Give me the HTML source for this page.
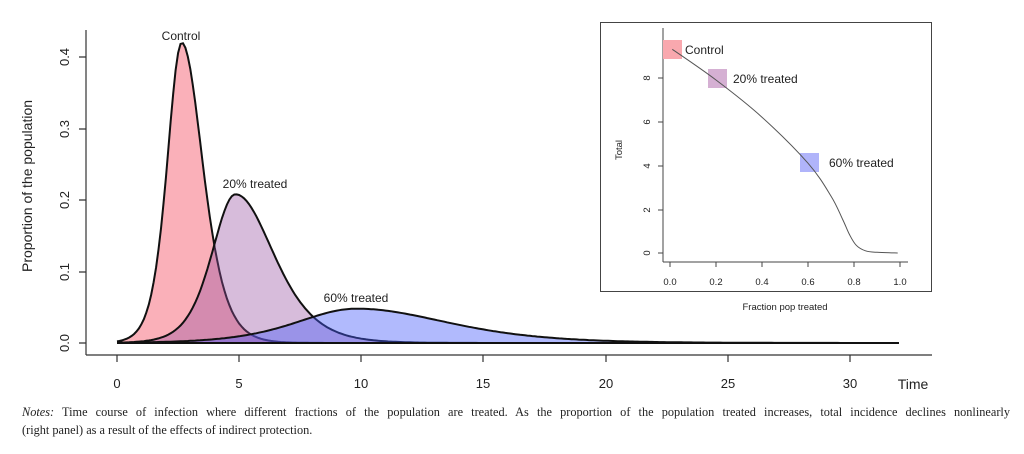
<!DOCTYPE html>
<html><head><meta charset="utf-8"><style>
body{margin:0;background:#fff;width:1024px;height:454px;overflow:hidden;font-family:"Liberation Sans",sans-serif}
.notes{position:absolute;left:22px;width:988px;font-family:"Liberation Serif",serif;font-size:12.3px;line-height:16px;color:#222;white-space:nowrap}
</style></head><body>
<svg id="s" width="1024" height="400" style="position:absolute;left:0;top:0" font-family="Liberation Sans, sans-serif">
<g stroke="#333" stroke-width="1.2" fill="none">
<path d="M86 30V355M86 355H932"/>
<path d="M117 355v7M239 355v7M361 355v7M483 355v7M606 355v7M728 355v7M850 355v7"/>
<path d="M86 343h-7M86 272h-7M86 200h-7M86 129h-7M86 57h-7"/>
</g>
<g id="main"></g>
<g fill="#222" font-size="13" text-anchor="middle">
<text x="117" y="388">0</text><text x="239" y="388">5</text><text x="361" y="388">10</text><text x="483" y="388">15</text><text x="606" y="388">20</text><text x="728" y="388">25</text><text x="850" y="388">30</text>
<text x="913" y="389" font-size="14">Time</text>
</g>
<g fill="#222" font-size="13" text-anchor="middle">
<text transform="translate(65,343) rotate(-90)" dy="4">0.0</text>
<text transform="translate(65,272) rotate(-90)" dy="4">0.1</text>
<text transform="translate(65,200) rotate(-90)" dy="4">0.2</text>
<text transform="translate(65,129) rotate(-90)" dy="4">0.3</text>
<text transform="translate(65,57) rotate(-90)" dy="4">0.4</text>
<text transform="translate(32,186) rotate(-90)" font-size="14">Proportion of the population</text>
</g>
<g fill="#222" font-size="12" text-anchor="middle">
<text x="181" y="40">Control</text><text x="255" y="188">20% treated</text><text x="356" y="302">60% treated</text>
</g>
<rect x="600.5" y="22.5" width="331" height="269" fill="#fff" stroke="#444" stroke-width="1"/>
<g stroke="#444" fill="none" stroke-width="1"><path d="M663 28V262M663 262H908"/>
<path d="M670 262v5M716 262v5M762 262v5M808 262v5M854 262v5M900 262v5"/>
<path d="M663 253h-5M663 210h-5M663 166h-5M663 122h-5M663 78h-5"/></g>
<rect x="663" y="40" width="19" height="19" fill="#f9a8ae"/>
<rect x="708" y="69" width="19" height="19" fill="#d5b0d3"/>
<rect x="800" y="153" width="19" height="19" fill="#b0b4fa"/>
<path id="inc" fill="none" stroke="#555" stroke-width="1"/>
<g fill="#222" font-size="9.5" text-anchor="middle">
<text x="670" y="285">0.0</text><text x="716" y="285">0.2</text><text x="762" y="285">0.4</text><text x="808" y="285">0.6</text><text x="854" y="285">0.8</text><text x="900" y="285">1.0</text>
<text transform="translate(647,253) rotate(-90)" dy="3">0</text>
<text transform="translate(647,210) rotate(-90)" dy="3">2</text>
<text transform="translate(647,166) rotate(-90)" dy="3">4</text>
<text transform="translate(647,122) rotate(-90)" dy="3">6</text>
<text transform="translate(647,78) rotate(-90)" dy="3">8</text>
<text transform="translate(622,150) rotate(-90)">Total</text>
<text x="785" y="310">Fraction pop treated</text>
</g>
<g fill="#222" font-size="12"><text x="685" y="54">Control</text><text x="733" y="83">20% treated</text><text x="829" y="167">60% treated</text></g>
</svg>
<div class="notes" style="top:404px;text-align:justify;text-align-last:justify"><i>Notes:</i> Time course of infection where different fractions of the population are treated. As the proportion of the population treated increases, total incidence declines nonlinearly</div>
<div class="notes" style="top:422px">(right panel) as a result of the effects of indirect protection.</div>
<script>
var X=t=>117+t*24.43,Y=v=>343-v*715;
function sech2(x){var c=Math.cosh(x);return 1/(c*c);}
function curve(m,h,wl,wr){var d="";for(var t=0;t<=32.001;t+=0.1){var w=t<m?wl:wr;var v=h*sech2((t-m)/w);d+=(d?"L":"M")+X(t).toFixed(1)+" "+Y(v).toFixed(1);}return d;}
var g=document.getElementById("main"),ns="http://www.w3.org/2000/svg";
[[2.65,0.42,0.8,1.15,"rgba(245,80,100,0.45)"],[4.85,0.208,1.3,2.1,"rgba(150,80,160,0.38)"],[9.8,0.048,3.3,5.0,"rgba(70,90,250,0.42)"]].forEach(function(c){
var d=curve(c[0],c[1],c[2],c[3]);var p=document.createElementNS(ns,"path");p.setAttribute("d",d+"L"+X(32)+" "+Y(0)+"L"+X(0)+" "+Y(0)+"Z");p.setAttribute("fill",c[4]);g.appendChild(p);
var l=document.createElementNS(ns,"path");l.setAttribute("d",d);l.setAttribute("fill","none");l.setAttribute("stroke","#111");l.setAttribute("stroke-width","2");g.appendChild(l);});
var bl=document.createElementNS(ns,"path");bl.setAttribute("d","M"+X(0)+" "+Y(0)+"H"+X(32));bl.setAttribute("stroke","#111");bl.setAttribute("stroke-width","2");g.appendChild(bl);
var P=[[0.01,9.3],[0.2,7.9],[0.4,6.2],[0.6,4.1],[0.7,2.6],[0.75,1.55],[0.78,0.85],[0.81,0.35],[0.85,0.1],[0.9,0.03],[0.99,0.0]];
var d="";function pt(p){return [670+p[0]*230,253-p[1]*21.9];}
var Q=P.map(pt);d="M"+Q[0][0]+" "+Q[0][1];
for(var i=0;i<Q.length-1;i++){var p0=Q[Math.max(0,i-1)],p1=Q[i],p2=Q[i+1],p3=Q[Math.min(Q.length-1,i+2)];
d+="C"+(p1[0]+(p2[0]-p0[0])/6).toFixed(1)+" "+(p1[1]+(p2[1]-p0[1])/6).toFixed(1)+" "+(p2[0]-(p3[0]-p1[0])/6).toFixed(1)+" "+(p2[1]-(p3[1]-p1[1])/6).toFixed(1)+" "+p2[0].toFixed(1)+" "+p2[1].toFixed(1);}
document.getElementById("inc").setAttribute("d",d);
</script>
</body></html>
